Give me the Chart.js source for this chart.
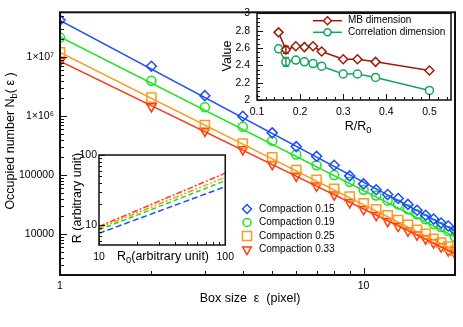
<!DOCTYPE html>
<html>
<head>
<meta charset="utf-8">
<script src="https://cdn.jsdelivr.net/npm/chart.js@4/dist/chart.umd.min.js"></script>
<style>
html, body { margin: 0; padding: 0; background: #fff; }
#wrap { position: relative; width: 463px; height: 327px; overflow: hidden; }
canvas { position: absolute; }
</style>
</head>
<body>
<div id="wrap">
  <canvas id="mainChart" width="463" height="327" style="left:0;top:0"></canvas>
  <canvas id="dimChart" width="258" height="135" style="left:205px;top:0"></canvas>
  <canvas id="radChart" width="175" height="125" style="left:65px;top:145px"></canvas>
</div>
<script>
const FONT = '"Liberation Sans", Arial, Helvetica, sans-serif';
Chart.defaults.font.family = FONT;
Chart.defaults.color = '#000';
Chart.defaults.animation = false;

// ---- main plot: occupied boxes vs box size
const boxSizes = [1, 2, 3, 4, 5, 6, 7, 8, 9, 10, 11, 12, 13, 14, 15, 16, 17, 18, 19, 20];
const comp015 = [4.23e7, 7.0e6, 2.22e6, 9.96e5, 5.2e5, 3.04e5, 2.08e5, 1.47e5, 9.7e4, 7.1e4,
                 5.66e4, 4.68e4, 4.01e4, 3.19e4, 2.54e4, 2.09e4, 1.80e4, 1.54e4, 1.37e4, 1.14e4];
const comp019 = [2.14e7, 3.98e6, 1.41e6, 6.6e5, 3.8e5, 2.24e5, 1.47e5, 1.0e5, 7.7e4, 5.66e4,
                 4.5e4, 3.72e4, 3.19e4, 2.63e4, 2.17e4, 1.79e4, 1.48e4, 1.32e4, 1.13e4, 9.0e3];
const comp025 = [1.2e7, 2.06e6, 7.06e5, 3.41e5, 2.0e5, 1.22e5, 8.3e4, 5.88e4, 4.33e4, 3.31e4,
                 2.63e4, 2.09e4, 1.73e4, 1.43e4, 1.18e4, 1.01e4, 8.36e3, 7.18e3, 6.15e3, 5.27e3];
const comp033 = [8.49e6, 1.46e6, 5.61e5, 2.72e5, 1.53e5, 9.67e4, 6.59e4, 4.67e4, 3.44e4, 2.63e4,
                 2.09e4, 1.66e4, 1.37e4, 1.14e4, 9.73e3, 8.36e3, 7.18e3, 6.15e3, 5.27e3, 4.71e3];
// fitted power laws, read at both ends of the x range
const fitEnds = [1, 20];
const fit015 = [4.2e7, 1.14e4];
const fit019 = [2.2e7, 9.0e3];
const fit025 = [1.2e7, 5.27e3];
const fit033 = [8.5e6, 4.7e3];
const compLabels = ['Compaction 0.15', 'Compaction 0.19', 'Compaction 0.25', 'Compaction 0.33'];

const mainXMajor = [1, 10];
const mainXLabels = ['1', '10'];
const mainYMajor = [1e4, 1e5, 1e6, 1e7];
const mainYLabels = ['10000', '100000', '1×10⁶', '1×10⁷'];

// ---- inset: dimensions vs R/R0
const ratio = [0.15, 0.167, 0.19, 0.21, 0.23, 0.25, 0.3, 0.333, 0.375, 0.5];
const mbDim = [2.78, 2.58, 2.62, 2.61, 2.62, 2.56, 2.47, 2.47, 2.44, 2.34];
const mbErr = [0, 0.04, 0, 0, 0, 0, 0, 0, 0, 0];
const corrDim = [2.59, 2.44, 2.46, 2.44, 2.42, 2.39, 2.30, 2.30, 2.26, 2.11];
const corrErr = [0, 0.05, 0, 0, 0, 0, 0, 0, 0, 0];
const dimLabels = ['MB dimension', 'Correlation dimension'];
const dimXMajor = [0.1, 0.2, 0.3, 0.4, 0.5];
const dimXLabels = ['0.1', '0.2', '0.3', '0.4', '0.5'];
const dimYMajor = [2, 2.2, 2.4, 2.6, 2.8, 3];
const dimYLabels = ['2', '2.2', '2.4', '2.6', '2.8', '3'];

// ---- inset: R vs R0
const r0Ends = [10, 100];
const rComp015 = [7.6, 35.3];
const rComp019 = [8.5, 43];
const rComp025 = [9.0, 48];
const rComp033 = [9.5, 55];
const radMajor = [10, 100];
const radLabels = ['10', '100'];

const series = [
    { label: compLabels[0], values: comp015, fit: fit015, r: rComp015, color: '#1e4cff', style: 'rectRot', size: 5, rot: 0, dash: [6, 3] },
    { label: compLabels[1], values: comp019, fit: fit019, r: rComp019, color: '#19e619', style: 'circle', size: 4.5, rot: 0, dash: [5, 3] },
    { label: compLabels[2], values: comp025, fit: fit025, r: rComp025, color: '#ff9a1f', style: 'rect', size: 6.5, rot: 0, dash: [6, 2, 2, 2, 2, 2] },
    { label: compLabels[3], values: comp033, fit: fit033, r: rComp033, color: '#ff3a12', style: 'triangle', size: 5.5, rot: 180, dash: [6, 2, 2, 2] }
];

function pairs(xs, ys) {
    return xs.map((x, i) => ({ x: x, y: ys[i] }));
}

function logTicks(lo, hi) {
    const out = [];
    for (let e = Math.floor(Math.log10(lo)); e <= Math.ceil(Math.log10(hi)); e++) {
        for (let m = 1; m < 10; m++) {
            const v = +(m * Math.pow(10, e)).toPrecision(6);
            if (v >= lo && v <= hi) out.push(v);
        }
    }
    return out;
}

function linTicks(lo, hi, step) {
    const out = [];
    for (let i = 0; lo + i * step <= hi + 1e-9; i++) out.push(+(lo + i * step).toFixed(4));
    return out;
}

function tickLabel(major, labels, v) {
    for (let i = 0; i < major.length; i++) {
        if (Math.abs(major[i] - v) <= 1e-9 * Math.abs(v)) return labels[i];
    }
    return '';
}

function axis(type, min, max, ticks, major, labels, size, pad) {
    return {
        type: type, min: min, max: max,
        afterBuildTicks: s => { s.ticks = ticks.map(v => ({ value: v })); },
        afterFit: s => { if (s.isHorizontal()) s.height = size; else s.width = size; },
        grid: { display: false, drawTicks: false },
        border: { display: false },
        ticks: {
            autoSkip: false, maxRotation: 0, minRotation: 0, padding: pad,
            font: { size: 10.5 },
            callback: v => tickLabel(major, labels, v)
        }
    };
}

function drawRich(ctx, it) {
    ctx.save();
    ctx.translate(it.x, it.y);
    if (it.rot) ctx.rotate(it.rot);
    const fonts = it.parts.map(p => (p[1] ? it.size * 0.75 : it.size) + 'px ' + FONT);
    const widths = it.parts.map((p, i) => { ctx.font = fonts[i]; return ctx.measureText(p[0]).width; });
    let cx = -widths.reduce((a, b) => a + b, 0) / 2;
    ctx.textBaseline = 'middle';
    ctx.textAlign = 'left';
    ctx.fillStyle = '#000';
    it.parts.forEach((p, i) => {
        ctx.font = fonts[i];
        ctx.fillText(p[0], cx, p[1] ? it.size * 0.3 : 0);
        cx += widths[i];
    });
    ctx.restore();
}

// box with inward ticks
const frame = {
    id: 'frame',
    beforeDraw(chart, args, o) {
        if (!o.fill) return;
        const a = chart.chartArea;
        chart.ctx.save();
        chart.ctx.fillStyle = o.fill;
        chart.ctx.fillRect(a.left, a.top, a.right - a.left, a.bottom - a.top);
        chart.ctx.restore();
    },
    afterDraw(chart, args, o) {
        const ctx = chart.ctx, a = chart.chartArea;
        const xs = chart.scales.x, ys = chart.scales.y;
        ctx.save();
        ctx.strokeStyle = '#111';
        ctx.lineWidth = 1;
        ctx.beginPath();
        xs.ticks.forEach(t => {
            const px = Math.round(xs.getPixelForValue(t.value)) + 0.5;
            ctx.moveTo(px, a.bottom);
            ctx.lineTo(px, a.bottom - (t.label ? o.major : o.minor));
        });
        ys.ticks.forEach(t => {
            const py = Math.round(ys.getPixelForValue(t.value)) + 0.5;
            ctx.moveTo(a.left, py);
            ctx.lineTo(a.left + (t.label ? o.major : o.minor), py);
        });
        ctx.stroke();
        ctx.lineWidth = o.lineWidth;
        ctx.strokeRect(a.left, a.top, a.right - a.left, a.bottom - a.top);
        ctx.restore();
    }
};

const richText = {
    id: 'richText',
    afterDraw(chart, args, o) {
        (o.items || []).forEach(it => drawRich(chart.ctx, it));
    }
};

const keyBox = {
    id: 'keyBox',
    afterDraw(chart, args, o) {
        if (!o.items) return;
        const ctx = chart.ctx;
        o.items.forEach((it, i) => {
            const y = o.y + i * o.dy;
            ctx.save();
            ctx.strokeStyle = it.color;
            ctx.lineWidth = 1.5;
            if (o.line) {
                ctx.beginPath();
                ctx.moveTo(o.x - o.line, y);
                ctx.lineTo(o.x + o.line, y);
                ctx.stroke();
            }
            ctx.fillStyle = o.line ? '#fff' : 'rgba(0,0,0,0)';
            Chart.helpers.drawPoint(ctx, { pointStyle: it.style, radius: it.size, rotation: it.rot, borderWidth: 1.5 }, o.x, y);
            ctx.fillStyle = '#000';
            ctx.font = '10px ' + FONT;
            ctx.textBaseline = 'middle';
            ctx.fillText(it.label, o.textX, y);
            ctx.restore();
        });
    }
};

const errBars = {
    id: 'errBars',
    afterDatasetsDraw(chart) {
        const ctx = chart.ctx, xs = chart.scales.x, ys = chart.scales.y;
        chart.data.datasets.forEach(ds => {
            if (!ds.errors) return;
            ctx.save();
            ctx.strokeStyle = ds.borderColor;
            ctx.lineWidth = 1.5;
            ds.data.forEach((p, i) => {
                const e = ds.errors[i];
                if (!e) return;
                const px = xs.getPixelForValue(p.x);
                const top = ys.getPixelForValue(p.y + e), bot = ys.getPixelForValue(p.y - e);
                ctx.beginPath();
                ctx.moveTo(px, top); ctx.lineTo(px, bot);
                ctx.moveTo(px - 3, top); ctx.lineTo(px + 3, top);
                ctx.moveTo(px - 3, bot); ctx.lineTo(px + 3, bot);
                ctx.stroke();
            });
            ctx.restore();
        });
    }
};

Chart.register(frame, richText, keyBox, errBars);

// ---- main chart
const mainSets = [];
series.forEach(s => {
    mainSets.push({
        data: pairs(fitEnds, s.fit), showLine: true, borderColor: s.color,
        borderWidth: 1.5, pointRadius: 0, clip: 0
    });
});
series.forEach(s => {
    mainSets.push({
        data: pairs(boxSizes, s.values), showLine: false, borderColor: s.color,
        backgroundColor: 'rgba(0,0,0,0)', pointStyle: s.style, pointRadius: s.size,
        pointRotation: s.rot, pointBorderWidth: 1.5, clip: 0
    });
});

new Chart(document.getElementById('mainChart'), {
    type: 'scatter',
    data: { datasets: mainSets },
    options: {
        responsive: false,
        events: [],
        layout: { padding: { left: 0, right: 6, top: 7, bottom: 0 } },
        scales: {
            x: axis('logarithmic', 1, 20, logTicks(1, 20), mainXMajor, mainXLabels, 52, 5),
            y: axis('logarithmic', 2030, 5.74e7, logTicks(2030, 5.74e7), mainYMajor, mainYLabels, 60, 6)
        },
        plugins: {
            legend: { display: false },
            tooltip: { enabled: false },
            frame: { lineWidth: 2, major: 7, minor: 4 },
            richText: {
                items: [
                    { x: 250, y: 299, size: 12.5, parts: [['Box size  ε  (pixel)']] },
                    { x: 11, y: 141, size: 12.5, rot: -Math.PI / 2, parts: [['Occupied number N'], ['b', 1], ['( ε )']] }
                ]
            },
            keyBox: {
                x: 247, textX: 259, y: 209, dy: 13.5,
                items: series.map(s => ({ label: s.label, color: s.color, style: s.style, size: s.size - (s.style === 'rect' ? 0 : 0.5), rot: s.rot }))
            }
        }
    }
});

// ---- inset: dimensions
const dimSeries = [
    { label: dimLabels[0], values: mbDim, errors: mbErr, color: '#a11a0a', style: 'rectRot', size: 4.5, rot: 0 },
    { label: dimLabels[1], values: corrDim, errors: corrErr, color: '#17a35f', style: 'circle', size: 4, rot: 0 }
];

new Chart(document.getElementById('dimChart'), {
    type: 'scatter',
    data: {
        datasets: dimSeries.map(s => ({
            data: pairs(ratio, s.values), errors: s.errors, showLine: true,
            borderColor: s.color, borderWidth: 1.5, backgroundColor: '#fff',
            pointStyle: s.style, pointRadius: s.size, pointBorderWidth: 1.5
        }))
    },
    options: {
        responsive: false,
        events: [],
        layout: { padding: { left: 0, right: 12, top: 12, bottom: 0 } },
        scales: {
            x: axis('linear', 0.1, 0.55, linTicks(0.1, 0.55, 0.02), dimXMajor, dimXLabels, 35, 6),
            y: axis('linear', 2, 3, linTicks(2, 3, 0.05), dimYMajor, dimYLabels, 52, 7)
        },
        plugins: {
            legend: { display: false },
            tooltip: { enabled: false },
            frame: { lineWidth: 1.5, major: 6, minor: 3, fill: '#fff' },
            richText: {
                items: [
                    { x: 23, y: 56, size: 12.5, rot: -Math.PI / 2, parts: [['Value']] },
                    { x: 153, y: 127, size: 12.5, parts: [['R/R'], ['0', 1]] }
                ]
            },
            keyBox: {
                x: 122.5, line: 14.5, textX: 143, y: 20.7, dy: 11.6,
                items: dimSeries.map(s => ({ label: s.label, color: s.color, style: s.style, size: s.size - 0.5, rot: s.rot }))
            }
        }
    }
});

// ---- inset: R vs R0
new Chart(document.getElementById('radChart'), {
    type: 'scatter',
    data: {
        datasets: series.map(s => ({
            data: pairs(r0Ends, s.r), showLine: true, borderColor: s.color,
            borderWidth: 1.5, borderDash: s.dash, pointRadius: 0
        }))
    },
    options: {
        responsive: false,
        events: [],
        layout: { padding: { left: 0, right: 10, top: 10, bottom: 0 } },
        scales: {
            x: axis('logarithmic', 10, 100, logTicks(10, 100), radMajor, radLabels, 25, 6),
            y: axis('logarithmic', 5.18, 100, logTicks(5.18, 100), radMajor, radLabels, 34, 2)
        },
        plugins: {
            legend: { display: false },
            tooltip: { enabled: false },
            frame: { lineWidth: 1.5, major: 6, minor: 3, fill: '#fff' },
            richText: {
                items: [
                    { x: 13, y: 53, size: 12.5, rot: -Math.PI / 2, parts: [['R (arbitrary unit)']] },
                    { x: 98, y: 112, size: 12.5, parts: [['R'], ['0', 1], ['(arbitrary unit)']] }
                ]
            }
        }
    }
});
</script>
</body>
</html>
